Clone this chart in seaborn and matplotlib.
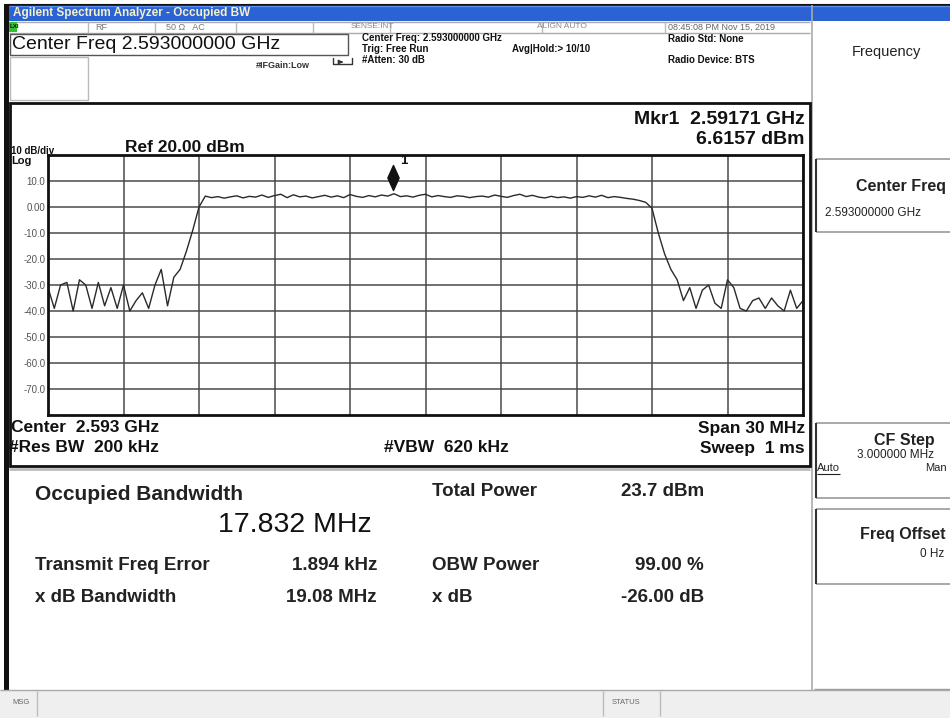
import numpy as np
import pandas as pd
import matplotlib
matplotlib.use("Agg")
import matplotlib.pyplot as plt
from matplotlib.patches import Rectangle
from matplotlib.path import Path
import seaborn as sns

# ---------------- data ----------------
FREQ_START_GHZ = 2.578
FREQ_STOP_GHZ = 2.608
X_GRID_GHZ = [2.578, 2.581, 2.584, 2.587, 2.590, 2.593, 2.596, 2.599, 2.602, 2.605, 2.608]
Y_TICKS = [10, 0, -10, -20, -30, -40, -50, -60, -70]
Y_TICK_LABELS = ["10.0", "0.00", "-10.0", "-20.0", "-30.0", "-40.0", "-50.0", "-60.0", "-70.0"]

AMP_DBM = [
    -31, -39, -30, -29, -40, -28, -30, -39, -29, -38,
    -31, -39, -30, -40, -36, -33, -39, -30, -24, -38,
    -27, -24, -17, -9, 0,
    4.2, 3.6, 4.0, 3.4, 3.9, 4.3, 3.5, 4.1, 3.8, 4.6,
    3.7, 4.4, 4.9, 3.6, 4.7, 3.9, 4.2, 3.5, 4.0, 4.5,
    3.8, 4.3, 3.6, 4.8, 4.1, 3.7, 4.4, 3.9, 4.6, 4.2,
    5.1, 4.0, 4.3, 3.8, 4.5, 4.9, 3.9, 4.4, 4.0, 3.7,
    4.3, 4.1, 3.6, 4.0, 4.2, 3.8, 4.6, 4.1, 3.7, 4.4,
    4.9, 4.0, 4.5, 3.8, 3.5, 4.1, 3.6, 3.9, 3.4, 4.0,
    3.7, 4.3, 3.8, 4.5, 3.6, 4.0, 3.7, 3.3, 3.0, 2.5,
    1.8, -0.5,
    -10, -18, -24, -28, -36, -31, -39, -32, -30, -37,
    -39, -28, -31, -39, -40, -36, -35, -39, -35, -38,
    -40, -32, -39, -36,
]

MKR_FREQ_GHZ = 2.59171
MKR_AMP_DBM = 6.6157

RESULT_LEFT_LABELS = ["Transmit Freq Error", "x dB Bandwidth"]
RESULT_LEFT_VALUES = ["1.894 kHz", "19.08 MHz"]
RESULT_RIGHT_LABELS = ["Total Power", "OBW Power", "x dB"]
RESULT_RIGHT_VALUES = ["23.7 dBm", "99.00 %", "-26.00 dB"]

# ---------------- figure ----------------
sns.set_style("white")
plt.rcParams["font.family"] = ["Liberation Sans", "DejaVu Sans"]

W, H = 950, 718
fig = plt.figure(figsize=(W / 100, H / 100), dpi=100)
fig.patch.set_facecolor("white")

bg = fig.add_axes([0, 0, 1, 1])
bg.set_xlim(0, W)
bg.set_ylim(H, 0)
bg.set_axis_off()


def rect(x0, y0, x1, y1, fc="none", ec="none", lw=1.0, z=1):
    bg.add_patch(Rectangle((x0, y0), x1 - x0, y1 - y0, facecolor=fc,
                           edgecolor=ec, linewidth=lw, zorder=z))


def hline(y, x0, x1, c="#999999", lw=1.0, z=2):
    bg.plot([x0, x1], [y, y], color=c, lw=lw, zorder=z, solid_capstyle="butt")


def vline(x, y0, y1, c="#999999", lw=1.0, z=2):
    bg.plot([x, x], [y0, y1], color=c, lw=lw, zorder=z, solid_capstyle="butt")


def txt(x, y, s, size=9, weight="normal", ha="left", va="center", color="#111111", **kw):
    bg.text(x, y, s, fontsize=size, fontweight=weight, ha=ha, va=va, color=color,
            zorder=5, clip_on=True, **kw)


# window border + title bar
rect(4, 4, 9, 690, fc="#111111", z=1)
hline(4.5, 4, W, c="#111111", lw=1.5)
rect(9, 5, W, 21, fc="#2b63d4", z=1)
hline(6, 9, W, c="#5d8ff0", lw=1.0)
txt(13, 13, "Agilent Spectrum Analyzer - Occupied BW", size=8.5, weight="bold", color="#f4f0c8")

# status row
hline(21.5, 9, 810, c="#aaaaaa")
hline(33, 9, 810, c="#aaaaaa")
rect(9, 22, 17, 32, fc="#2fc12f", z=2)
txt(10, 27, "LXI", size=4.5, weight="bold", color="#111111")
for xs in [88, 155, 236, 313, 390, 542, 665]:
    vline(xs, 22, 33, c="#bbbbbb")
txt(95, 27, "RF", size=6.5, color="#777777")
txt(166, 27, "50 \u03a9   AC", size=6.5, color="#777777")
txt(372, 27, "SENSE:INT", size=6, color="#888888", ha="center")
txt(562, 27, "ALIGN AUTO", size=6, color="#888888", ha="center")
txt(668, 27, "08:45:08 PM Nov 15, 2019", size=6.5, color="#666666")

# center freq box
rect(10, 34, 348, 55, ec="#555555", lw=1.0, z=2)
txt(12, 44.5, "Center Freq 2.593000000 GHz", size=14, color="#111111")
rect(10, 57, 88, 100, ec="#bbbbbb", lw=1.0, z=2)
txt(256, 66, "#IFGain:Low", size=6.5, weight="bold", color="#333333")
bg.plot([333, 333, 352, 352], [58, 64, 64, 58], color="#333333", lw=1, zorder=3)
bg.annotate("", xy=(346, 62), xytext=(338, 62),
            arrowprops=dict(arrowstyle="-|>", color="#333333", lw=1, mutation_scale=6), zorder=3)

txt(362, 38, "Center Freq: 2.593000000 GHz", size=7, weight="bold")
txt(362, 49, "Trig: Free Run", size=7, weight="bold")
txt(512, 49, "Avg|Hold:> 10/10", size=7, weight="bold")
txt(362, 60, "#Atten: 30 dB", size=7, weight="bold")
txt(668, 39, "Radio Std: None", size=7, weight="bold")
txt(668, 60, "Radio Device: BTS", size=7, weight="bold")

# right soft-key panel
vline(812, 5, 690, c="#aaaaaa", lw=1.2)
txt(886, 52, "Frequency", size=10.5, color="#222222", ha="center")
for (y0, y1) in [(159, 232), (423, 498), (509, 584)]:
    hline(y0, 816, W, c="#999999", lw=1.2)
    hline(y1, 816, W, c="#999999", lw=1.2)
    vline(816, y0, y1, c="#333333", lw=1.5)
txt(856, 187, "Center Freq", size=11.5, weight="bold", color="#222222")
txt(825, 213, "2.593000000 GHz", size=8.5, color="#222222")
txt(874, 441, "CF Step", size=11.5, weight="bold", color="#222222")
txt(857, 455, "3.000000 MHz", size=8.5, color="#222222")
txt(817, 468, "Auto", size=8, color="#222222")
hline(474, 817, 840, c="#222222", lw=0.8)
txt(925, 468, "Man", size=8, color="#222222")
txt(860, 534, "Freq Offset", size=11.5, weight="bold", color="#222222")
txt(920, 554, "0 Hz", size=8.5, color="#222222")
hline(689, 814, W, c="#999999", lw=1.0)

# main trace frame
rect(9.5, 103, 810, 466, ec="#111111", lw=2.0, z=2)
hline(469, 9, 810, c="#bbbbbb", lw=2.0)
txt(805, 119, "Mkr1  2.59171 GHz", size=14, weight="bold", ha="right")
txt(805, 140, "6.6157 dBm", size=14, weight="bold", ha="right")
txt(11, 151, "10 dB/div", size=7, weight="bold")
txt(125, 147, "Ref 20.00 dBm", size=12.5, weight="bold")
txt(11, 161, "Log", size=8, weight="bold")
txt(11, 427, "Center  2.593 GHz", size=12.5, weight="bold")
txt(9, 447, "#Res BW  200 kHz", size=12.5, weight="bold")
txt(384, 448, "#VBW  620 kHz", size=12.5, weight="bold")
txt(805, 428, "Span 30 MHz", size=12.5, weight="bold", ha="right")
txt(805, 448, "Sweep  1 ms", size=12.5, weight="bold", ha="right")

# results panel
txt(35, 494, "Occupied Bandwidth", size=15, weight="bold", color="#222222")
txt(372, 525, "17.832 MHz", size=20.5, ha="right", color="#111111")
for i, (lab, val) in enumerate(zip(RESULT_LEFT_LABELS, RESULT_LEFT_VALUES)):
    y = 565 + 33 * i
    txt(35, y, lab, size=13.5, weight="bold", color="#222222")
    txt(377, y, val, size=13.5, weight="bold", ha="right", color="#222222")
for lab, val, y in zip(RESULT_RIGHT_LABELS, RESULT_RIGHT_VALUES, [492, 565, 598]):
    txt(432, y, lab, size=13.5, weight="bold", color="#222222")
    txt(704, y, val, size=13.5, weight="bold", ha="right", color="#222222")

# bottom status bar
rect(0, 690, W, H, fc="#efefef", z=1)
hline(690, 0, W, c="#aaaaaa", lw=1.0)
vline(37, 691, 716, c="#bbbbbb")
vline(603, 691, 716, c="#bbbbbb")
vline(660, 691, 716, c="#bbbbbb")
txt(12, 703, "MSG", size=5.5, color="#666666")
txt(612, 703, "STATUS", size=5.5, color="#666666")

# ---------------- spectrum trace ----------------
x0, x1, ytop, ybot = 48, 803, 155, 415
ax = fig.add_axes([x0 / W, 1 - ybot / H, (x1 - x0) / W, (ybot - ytop) / H])
ax.set_facecolor("white")

df = pd.DataFrame({
    "freq": np.linspace(FREQ_START_GHZ, FREQ_STOP_GHZ, len(AMP_DBM)),
    "amp": AMP_DBM,
})
sns.lineplot(data=df, x="freq", y="amp", ax=ax, color="#2a2a2a", linewidth=1.0)

ax.set_xlim(FREQ_START_GHZ, FREQ_STOP_GHZ)
ax.set_ylim(-80, 20)
ax.set_xticks(X_GRID_GHZ)
ax.set_yticks(Y_TICKS)
ax.set_yticklabels(Y_TICK_LABELS)
ax.set_xticklabels([])
ax.grid(True, color="#4a4a4a", linewidth=1.1)
ax.set_axisbelow(True)
ax.tick_params(axis="both", length=0)
ax.tick_params(axis="y", labelsize=7, labelcolor="#555555", pad=2)
ax.set_xlabel("")
ax.set_ylabel("")
for sp in ax.spines.values():
    sp.set_visible(True)
    sp.set_color("#111111")
    sp.set_linewidth(2.0)

diamond = Path([(0, 0), (-0.45, 1), (0, 2), (0.45, 1), (0, 0)],
               [Path.MOVETO, Path.LINETO, Path.LINETO, Path.LINETO, Path.CLOSEPOLY])
ax.plot([MKR_FREQ_GHZ], [MKR_AMP_DBM], marker=diamond, markersize=36,
        color="#111111", linestyle="none", zorder=6, clip_on=False)
ax.annotate("1", xy=(MKR_FREQ_GHZ, MKR_AMP_DBM), xytext=(8, 21),
            textcoords="offset points", fontsize=9.5, fontweight="bold",
            ha="center", va="center", color="#111111", annotation_clip=False)

fig.savefig("out.png", dpi=100, facecolor="white")
